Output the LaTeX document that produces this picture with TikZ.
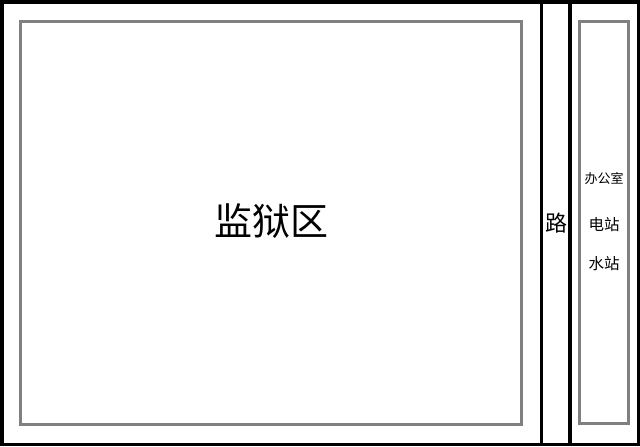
\documentclass[tikz,border=0pt]{standalone}
\usepackage{fontspec}
\newfontfamily\cjk{Noto Sans CJK SC}

\begin{document}
\begin{tikzpicture}[x=1pt, y=-1pt]
			%%%%% START %%%%%
			\useasboundingbox (0, 0) rectangle (640, 447);
			
			\draw[line width=3.5pt] (2, 2) rectangle (638.5, 444.5);
			\draw[line width=3.5pt] (541.5, 2) -- (541.5, 444.5);
			\draw[line width=3.5pt] (570, 2) -- (570, 444.5);
			
			\draw[line width=3pt, color=black!50] (20.5, 21.5) rectangle (521.5, 424.5);
			\draw[line width=3pt, color=black!50] (579.5, 21.5) rectangle (628, 423);
			
			\node[font=\cjk\fontsize{38}{38}\selectfont] (prison) at (271, 221) {监狱区};
			\node[font=\cjk\fontsize{22}{22}\selectfont] (road) at (556, 223) {路};
			
			\node[font=\cjk\fontsize{13}{13}\selectfont] (office) at (604, 179) {办公室};
			\node[font=\cjk\fontsize{15.5}{15.5}\selectfont] (power) at (604, 225) {电站};
			\node[font=\cjk\fontsize{15.5}{15.5}\selectfont] (water) at (604, 264) {水站};
			
			%%%%% END %%%%%
		\end{tikzpicture}
\end{document}
